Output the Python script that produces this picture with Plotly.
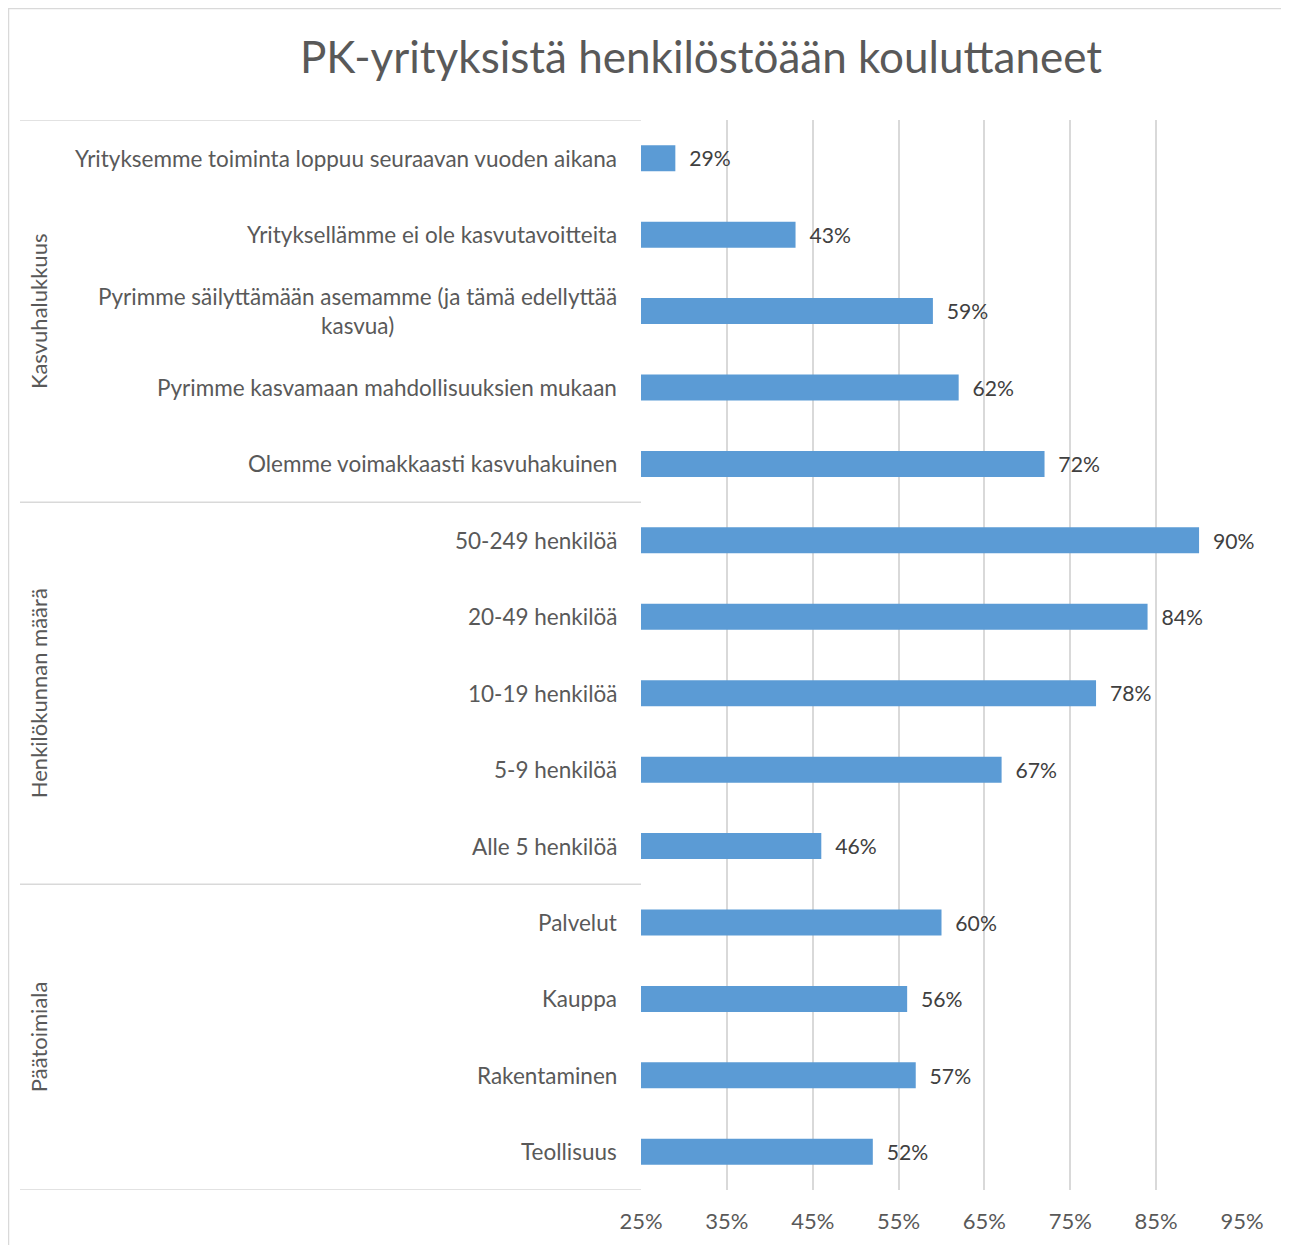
import plotly.graph_objects as go

title = "PK-yrityksistä henkilöstöään kouluttaneet"
groups = ["Kasvuhalukkuus", "Henkilökunnan määrä", "Päätoimiala"]
group_sizes = [5, 5, 4]
categories = [
    "Yrityksemme toiminta loppuu seuraavan vuoden aikana",
    "Yrityksellämme ei ole kasvutavoitteita",
    "Pyrimme säilyttämään asemamme (ja tämä edellyttää<br>kasvua)",
    "Pyrimme kasvamaan mahdollisuuksien mukaan",
    "Olemme voimakkaasti kasvuhakuinen",
    "50-249 henkilöä",
    "20-49 henkilöä",
    "10-19 henkilöä",
    "5-9 henkilöä",
    "Alle 5 henkilöä",
    "Palvelut",
    "Kauppa",
    "Rakentaminen",
    "Teollisuus",
]
values = [29, 43, 59, 62, 72, 90, 84, 78, 67, 46, 60, 56, 57, 52]
x_ticks = [25, 35, 45, 55, 65, 75, 85, 95]
x_tick_labels = ["25%", "35%", "45%", "55%", "65%", "75%", "85%", "95%"]

FONT = "Lato"
OFF = 8  # page body margin
W, H = 1289 - OFF, 1245 - OFF
L, T = 641 - OFF, 120 - OFF
R = W - (1242 - OFF)
B = H - (1190 - OFF)
PW, PH = W - L - R, H - T - B

def px_to_paper_x(px):
    # px given in screen coordinates
    return (px - OFF - L) / PW

def px_to_paper_y(py):
    return (T + PH - (py - OFF)) / PH

idx = list(range(len(categories)))

fig = go.Figure()
fig.add_trace(go.Bar(
    x=values, y=idx, orientation="h",
    marker=dict(color="#5B9BD5", line=dict(width=0)),
    width=0.34,
    text=[f"\u00a0\u00a0{v}%" for v in values],
    textposition="outside",
    textfont=dict(family=FONT, size=22, color="#404040"),
    cliponaxis=False,
    hoverinfo="skip",
))

annotations = []
for i, c in enumerate(categories):
    annotations.append(dict(
        x=0, xref="paper", xshift=-22, xanchor="right",
        y=i, yref="y", yanchor="middle",
        text=c, showarrow=False, align="center",
        font=dict(family=FONT, size=22.5, color="#595959"),
    ))

shapes = []
start = 0
seps = [-0.5]
for g, n in zip(groups, group_sizes):
    center = start + (n - 1) / 2
    annotations.append(dict(
        x=px_to_paper_x(38), xref="paper", xanchor="center",
        y=center, yref="y", yanchor="middle",
        text=g, showarrow=False, textangle=-90,
        font=dict(family=FONT, size=22, color="#595959"),
    ))
    start += n
    seps.append(start - 0.5)

for s in seps:
    shapes.append(dict(type="line", xref="paper", yref="y",
                       x0=px_to_paper_x(20), x1=0, y0=s, y1=s,
                       line=dict(color="#d9d9d9", width=1.5)))

# outer chart frame
shapes.append(dict(type="rect", xref="paper", yref="paper",
                   x0=px_to_paper_x(8.5), x1=px_to_paper_x(1320),
                   y0=px_to_paper_y(1280), y1=px_to_paper_y(8.5),
                   line=dict(color="#d9d9d9", width=1.5), layer="below"))

fig.update_layout(
    width=W, height=H,
    margin=dict(l=L, r=R, t=T, b=B),
    paper_bgcolor="white", plot_bgcolor="white",
    showlegend=False,
    title=dict(text=title, x=(701 - OFF) / W, xref="container", xanchor="center",
               y=1 - (58 - OFF) / H, yref="container", yanchor="middle",
               font=dict(family=FONT, size=44, color="#595959")),
    annotations=annotations,
    shapes=shapes,
    xaxis=dict(range=[25, 95], tickmode="array", tickvals=x_ticks, ticktext=x_tick_labels,
               showgrid=True, gridcolor="#d9d9d9", gridwidth=1.5,
               zeroline=False, showline=False, ticks="",
               ticklabelstandoff=16,
               tickfont=dict(family=FONT, size=22, color="#595959")),
    yaxis=dict(range=[13.5, -0.5], showticklabels=False, showgrid=False,
               zeroline=False, showline=False, ticks=""),
)

fig.write_html("out.html")
